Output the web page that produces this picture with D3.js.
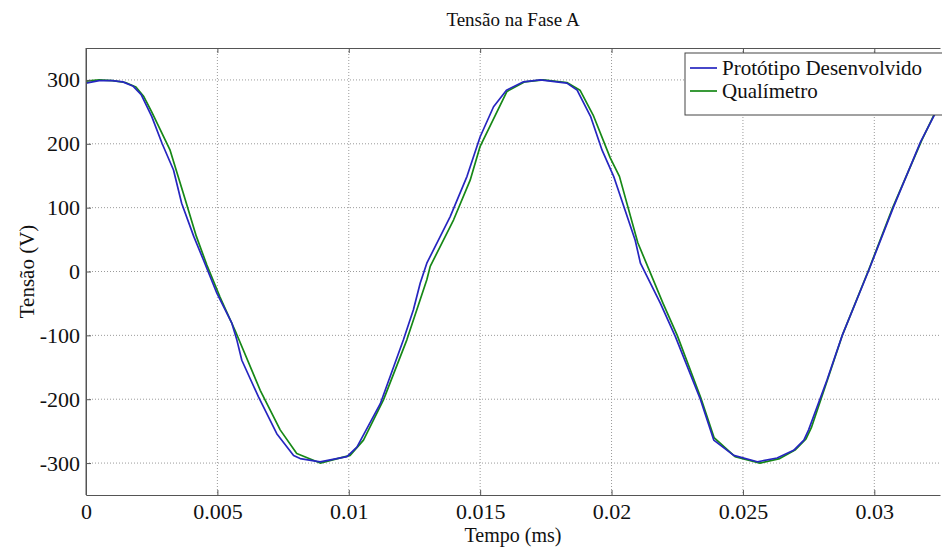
<!DOCTYPE html>
<html>
  <head>
    <meta charset="utf-8">
    <title>Tensão na Fase A</title>
    <style>
      body { margin: 0; padding: 0; background: #fff; }
      #chart svg { display: block; }
    </style>
  </head>
  <body>
    <div id="chart"></div>
    <script src="https://cdn.jsdelivr.net/npm/d3@7"></script>
    <script>
      // Protótipo Desenvolvido (blue)
      var protoT = [0, 0.0005, 0.001, 0.0014, 0.0018, 0.0021, 0.0025, 0.0029, 0.00333, 0.00364, 0.0041, 0.00447,
        0.00498, 0.00555, 0.00574, 0.00593, 0.00656, 0.00726, 0.0079, 0.00815, 0.00891, 0.00993, 0.01031, 0.0112,
        0.01208, 0.01246, 0.01272, 0.01297, 0.01386, 0.0145, 0.015, 0.01551, 0.016, 0.01665, 0.01729, 0.0183,
        0.01869, 0.0192, 0.01964, 0.02008, 0.0209, 0.0211, 0.02186, 0.02243, 0.02338, 0.02389, 0.02465, 0.02555,
        0.0263, 0.02693, 0.02732, 0.0275, 0.0282, 0.02878, 0.02979, 0.03074, 0.03176, 0.0325];
      var protoV = [295, 299, 299, 297, 290, 277, 243, 200, 159, 107, 55, 18,
        -34, -81, -107, -139, -196, -254, -288, -293, -298, -290, -275, -207,
        -107, -60, -18, 13, 86, 149, 211, 258, 284, 297, 300, 295,
        284, 243, 190, 149, 49, 13, -50, -102, -200, -264, -288, -298,
        -292, -280, -264, -248, -170, -100, 2, 102, 203, 262];

      // Qualímetro (green)
      var qualT = [0, 0.0005, 0.001, 0.0015, 0.0019, 0.0022, 0.0025, 0.0032, 0.0037, 0.0042, 0.0046, 0.0051,
        0.00567, 0.00663, 0.00739, 0.00802, 0.00891, 0.01005, 0.01056, 0.01132, 0.01221, 0.01297, 0.0131, 0.01399,
        0.01462, 0.015, 0.01602, 0.0167, 0.0174, 0.0183, 0.0188, 0.0193, 0.01995, 0.0203, 0.021, 0.02196,
        0.0225, 0.0234, 0.0239, 0.0247, 0.02565, 0.0264, 0.027, 0.0274, 0.0276, 0.0282, 0.0288, 0.0298,
        0.0307, 0.0318, 0.0325];
      var qualV = [298, 300, 299, 296, 289, 274, 250, 190, 123, 55, 10, -40,
        -92, -186, -248, -285, -300, -288, -264, -201, -107, -13, 8, 81,
        143, 196, 282, 297, 300, 296, 284, 245, 178, 149, 45, -50,
        -100, -198, -260, -290, -300, -293, -279, -262, -245, -172, -98, 4,
        100, 205, 265];

      var xTicks = [0, 0.005, 0.01, 0.015, 0.02, 0.025, 0.03];
      var yTicks = [-300, -200, -100, 0, 100, 200, 300];
      var seriesNames = ["Protótipo Desenvolvido", "Qualímetro"];
      var seriesColors = ["#2626c0", "#168816"];

      var FONT = "'Liberation Serif', 'Times New Roman', Times, serif";

      var W = 942, H = 548;
      var margin = {top: 48, right: 2, bottom: 53, left: 86},
          width = W - margin.left - margin.right,
          height = H - margin.top - margin.bottom;

      var svg = d3.select("#chart").append("svg")
          .attr("width", W)
          .attr("height", H)
          .attr("font-family", FONT),
          g = svg.append("g")
          .attr("transform", "translate(" + margin.left + "," + margin.top + ")");

      var x = d3.scaleLinear().domain([0, 0.0325]).range([0, width]),
          y = d3.scaleLinear().domain([-350, 350]).range([height, 0]);

      // grid
      g.append("g")
        .selectAll("line")
        .data(xTicks.slice(1))
        .enter().append("line")
          .attr("x1", d => x(d)).attr("x2", d => x(d))
          .attr("y1", 0).attr("y2", height)
          .attr("stroke", "#9a9a9a")
          .attr("stroke-dasharray", "1,2");
      g.append("g")
        .selectAll("line")
        .data(yTicks)
        .enter().append("line")
          .attr("x1", 0).attr("x2", width)
          .attr("y1", d => y(d)).attr("y2", d => y(d))
          .attr("stroke", "#9a9a9a")
          .attr("stroke-dasharray", "1,2");

      // curves
      g.append("clipPath").attr("id", "clip")
        .append("rect").attr("width", width).attr("height", height);

      var line = d3.line()
          .x(d => x(d[0]))
          .y(d => y(d[1]));

      var series = [d3.zip(protoT, protoV), d3.zip(qualT, qualV)];

      g.append("g")
          .attr("clip-path", "url(#clip)")
        .selectAll("path")
        .data([series[1], series[0]])
        .enter().append("path")
          .attr("fill", "none")
          .attr("stroke", (d, i) => seriesColors[1 - i])
          .attr("stroke-width", 1.7)
          .attr("stroke-linejoin", "round")
          .attr("d", line);

      // axes
      var fmt = d => d === 0 ? "0" : String(+d.toFixed(3));

      var xAxis = g.append("g")
        .attr("transform", "translate(0," + height + ")")
        .call(d3.axisBottom(x).tickValues(xTicks).tickFormat(fmt).tickSizeInner(-5).tickSizeOuter(0).tickPadding(8));
      var xAxisTop = g.append("g")
        .call(d3.axisTop(x).tickValues(xTicks).tickFormat("").tickSizeInner(-5).tickSizeOuter(0));
      var yAxis = g.append("g")
        .call(d3.axisLeft(y).tickValues(yTicks).tickFormat(fmt).tickSizeInner(-5).tickSizeOuter(0).tickPadding(6));

      [xAxis, xAxisTop, yAxis].forEach(function (a) {
        a.attr("font-family", FONT);
        a.selectAll(".domain").attr("stroke", "#555");
        a.selectAll(".tick line").attr("stroke", "#555");
        a.selectAll(".tick text")
          .attr("font-family", FONT)
          .attr("font-size", "22px")
          .attr("fill", "#111");
      });

      g.append("line")
        .attr("x1", 0).attr("x2", 0).attr("y1", 0).attr("y2", height)
        .attr("stroke", "#555");

      // legend
      var legend = g.append("g")
        .attr("transform", "translate(" + (685 - margin.left) + "," + (53 - margin.top) + ")");
      legend.append("rect")
        .attr("width", 300)
        .attr("height", 62)
        .attr("fill", "#fff")
        .attr("stroke", "#444");
      var items = legend.selectAll(".item")
        .data(seriesNames)
        .enter().append("g")
          .attr("transform", (d, i) => "translate(0," + (15 + i * 23) + ")");
      items.append("line")
        .attr("x1", 5).attr("x2", 32)
        .attr("stroke", (d, i) => seriesColors[i])
        .attr("stroke-width", 1.7);
      items.append("text")
        .attr("x", 37)
        .attr("dy", "0.33em")
        .attr("font-family", FONT)
        .attr("font-size", "21px")
        .attr("fill", "#111")
        .text(d => d);

      // labels
      svg.append("text")
        .attr("x", margin.left + width / 2)
        .attr("y", 26)
        .attr("text-anchor", "middle")
        .attr("font-family", FONT)
        .attr("font-size", "19px")
        .attr("fill", "#111")
        .text("Tensão na Fase A");

      svg.append("text")
        .attr("x", margin.left + width / 2)
        .attr("y", 542)
        .attr("text-anchor", "middle")
        .attr("font-family", FONT)
        .attr("font-size", "20px")
        .attr("fill", "#111")
        .text("Tempo (ms)");

      svg.append("text")
        .attr("transform", "translate(34," + (margin.top + height / 2) + ") rotate(-90)")
        .attr("text-anchor", "middle")
        .attr("font-family", FONT)
        .attr("font-size", "21px")
        .attr("fill", "#111")
        .text("Tensão (V)");
    </script>
  </body>
</html>
